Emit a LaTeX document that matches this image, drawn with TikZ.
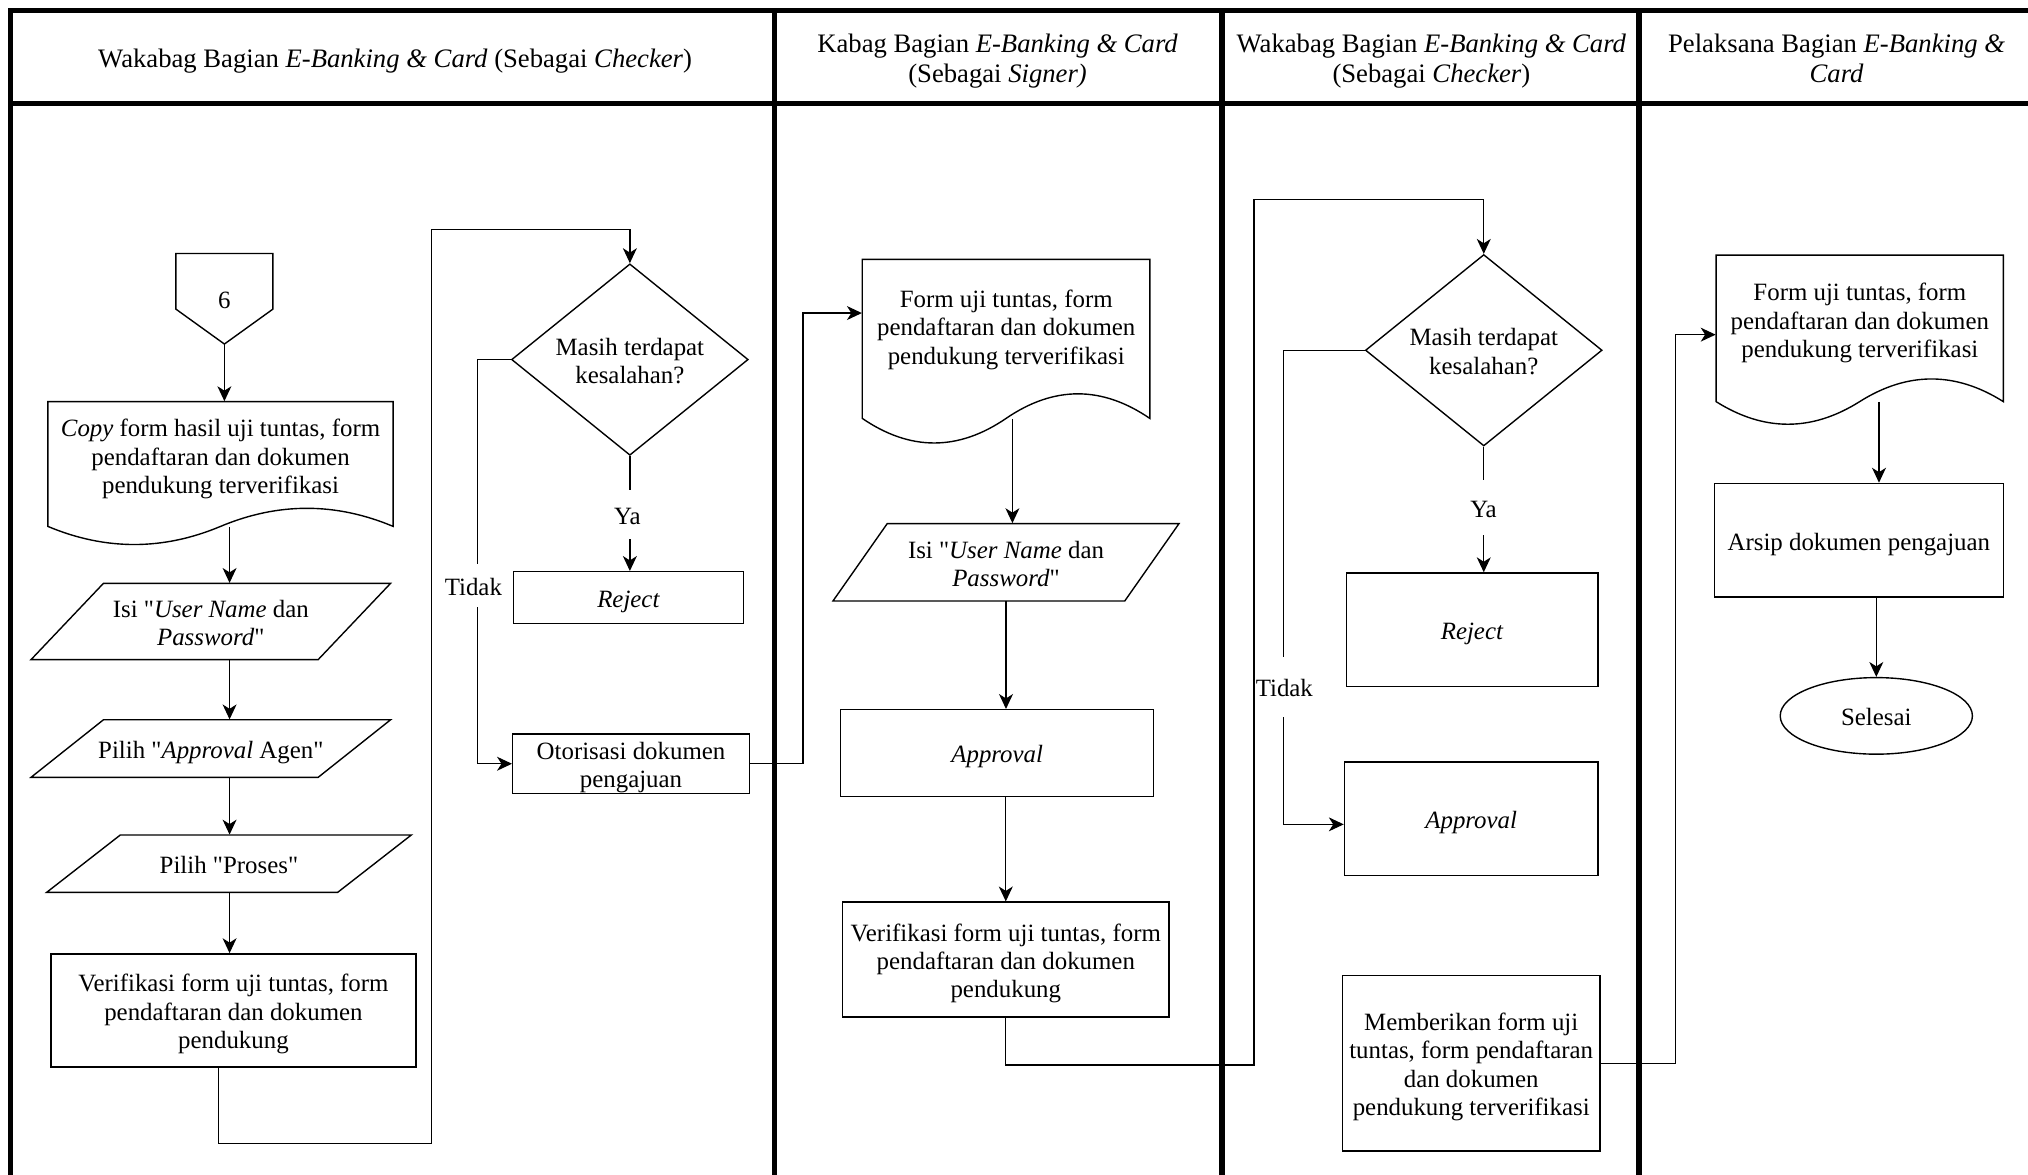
\documentclass[tikz,border=0pt]{standalone}
\usepackage{fontspec}
\setmainfont{Liberation Serif}[Ligatures=TeXOff]
\usetikzlibrary{arrows.meta,shapes.geometric}

% document symbol: x-left, x-right, y-top, y of side ends, wave amplitude
\newcommand\flowdoc[5]{%
  \draw[outline] (#1,#4) -- (#1,#3) -- (#2,#3) -- (#2,#4)
    .. controls ({#2-(#2-#1)/6},{#4-4/3*#5}) and ({#2-(#2-#1)/3},{#4-4/3*#5}) .. ({(#1+#2)/2},#4)
    .. controls ({(#1+#2)/2-(#2-#1)/6},{#4+4/3*#5}) and ({(#1+#2)/2-(#2-#1)/3},{#4+4/3*#5}) .. (#1,#4) -- cycle;}
% input/output parallelogram: x-left, x-right, y-top, y-bottom, slant
\newcommand\flowpgram[5]{%
  \draw[outline] (#1,#4) -- ({#1+#5},#3) -- (#2,#3) -- ({#2-#5},#4) -- cycle;}
% struts for the first and last line of multi-line labels
\newcommand\lnup{\rule{0pt}{12.8pt}}
\newcommand\lndn{\rule[-2.8pt]{0pt}{0pt}}
\newcommand\hdup{\rule{0pt}{13.2pt}}
\newcommand\hddn{\rule[-3pt]{0pt}{0pt}}

\tikzset{
  lane/.style={line width=2.8pt},
  outline/.style={line width=0.7pt},
  link/.style={line width=0.65pt},
  arr/.style={link,-{Stealth[length=7.5pt,width=7pt,inset=2.2pt]}},
  body/.style={font=\fontsize{12.5pt}{14.3pt}\selectfont, align=center, inner sep=0pt,
    execute at begin node={\lnup}, execute at end node={\lndn}},
  head/.style={font=\fontsize{13.4pt}{15.4pt}\selectfont, align=center, inner sep=0pt,
    execute at begin node={\rule{0pt}{12.8pt}}, execute at end node={\hddn}},
  extent/.style 2 args={inner sep=0pt, minimum width=#1*0.65pt, minimum height=#2*0.65pt},
  box/.style 2 args={draw, outline, body, extent={#1}{#2}},
  decision/.style={draw, outline, diamond, aspect=1.24, body,
    minimum width=183*0.65pt, minimum height=148*0.65pt},
  tag/.style={body, fill=white, inner sep=4.5pt},
}

\begin{document}
\begin{tikzpicture}[x=0.65pt,y=-0.65pt]
\useasboundingbox (0,0) rectangle (1568,908);

% swimlane frame
\draw[lane] (1575,8) -- (8,8) -- (8,915);
\draw[lane] (8,80) -- (1575,80);
\foreach \xx in {598.7,945,1267} \draw[lane] (\xx,8) -- (\xx,915);

% lane headers
\node[head] (h1) at (305.5,44.4) {Wakabag Bagian \emph{E-Banking \& Card} (Sebagai \emph{Checker})};
\node[head] (h2) at (771.3,44.3) {\hdup Kabag Bagian \emph{E-Banking \& Card}\\(Sebagai \emph{Signer)}\hddn};
\node[head] (h3) at (1106.7,44.3) {\hdup Wakabag Bagian \emph{E-Banking \& Card}\\(Sebagai \emph{Checker})\hddn};
\node[head] (h4) at (1420,44.3) {\hdup Pelaksana Bagian \emph{E-Banking \&}\\\emph{Card}\hddn};

% ---------- lane 1 ----------
\draw[outline] (136,196) -- (211,196) -- (211,239) -- (173.5,266) -- (136,239) -- cycle;
\node[body, extent={75}{70}] (off6) at (173.5,231) {6};

\flowdoc{37}{304}{310.5}{407}{14}
\node[extent={267}{96.5}] (doc1) at (170.5,358.75) {};
\node[body] (doc1t) at (170.5,352) {\lnup\emph{Copy} form hasil uji tuntas, form\\pendaftaran dan dokumen\\pendukung terverifikasi\lndn};

\flowpgram{24}{302}{451}{510}{56}
\node[body, extent={278}{59}] (p1) at (163,480.5) {\lnup Isi "\emph{User Name} dan\\\emph{Password}"\lndn};
\flowpgram{24}{302}{556.5}{601}{56}
\node[body, extent={278}{44.5}] (p2) at (163,578.75) {Pilih "\emph{Approval} Agen"};
\flowpgram{36}{318}{645.6}{690}{57}
\node[body, extent={282}{44.4}] (p3) at (177,667.8) {Pilih "Proses"};
\node[box={282}{87.5}] (v1) at (180.5,781.25) {\lnup Verifikasi form uji tuntas, form\\pendaftaran dan dokumen\\pendukung\lndn};

\node[decision] (d1) at (487,278) {\lnup Masih terdapat\\kesalahan?\lndn};
\node[box={178}{40}] (rej1) at (486,462) {\emph{Reject}};
\node[box={183}{44.3}] (otor) at (487.9,590.5) {\lnup Otorisasi dokumen\\pengajuan\lndn};

\coordinate (col1) at (177.5,0);
\coordinate (loop1) at (169,884);
\draw[arr] (off6.south) -- (off6.south |- doc1.north);
\draw[arr] (doc1.south -| col1) -- (p1.north -| col1);
\draw[arr] (p1.south -| col1) -- (p2.north -| col1);
\draw[arr] (p2.south -| col1) -- (p3.north -| col1);
\draw[arr] (p3.south -| col1) -- (v1.north -| col1);
\draw[arr] (v1.south -| loop1) -- (loop1) -- (333.8,884) -- (333.8,177.3) -| (d1.north);
\draw[arr] (d1.south) -- (d1.south |- rej1.north);
\draw[arr] (d1.west) -- ++(-25.8,0) |- (otor.west);
\node[tag] (ya1) at (485,397.5) {Ya};
\node[tag, inner ysep=3pt] (no1) at (366,452.5) {Tidak};

% ---------- lane 2 ----------
\flowdoc{666.7}{889}{200.5}{323.5}{19}
\node[extent={222.3}{123}] (doc2) at (777.85,262) {};
\node[body] (doc2t) at (778,252) {\lnup Form uji tuntas, form\\pendaftaran dan dokumen\\pendukung terverifikasi\lndn};
\flowpgram{644}{911.6}{404.8}{464.7}{42}
\node[body, extent={267.6}{59.9}] (p4) at (777.8,434.75) {\lnup Isi "\emph{User Name} dan\\\emph{Password}"\lndn};
\node[box={242}{67}] (appr1) at (771,582.2) {\emph{Approval}};
\node[box={252.3}{88.8}] (v2) at (777.65,741.9) {\lnup Verifikasi form uji tuntas, form\\pendaftaran dan dokumen\\pendukung\lndn};

\draw[arr] ([xshift=3.2pt]doc2.south) -- ([xshift=3.2pt]doc2.south |- p4.north);
\draw[arr] (p4.south) -- (p4.south |- appr1.north);
\draw[arr] (v2.north |- appr1.south) -- (v2.north);

% ---------- lane 3 ----------
\node[decision] (d2) at (1147.2,270.8) {\lnup Masih terdapat\\kesalahan?\lndn};
\node[box={194.4}{88}] (rej2) at (1138.2,487) {\emph{Reject}};
\node[box={196}{87.8}] (appr2) at (1137.5,632.9) {\emph{Approval}};
\node[box={199}{136}] (memb) at (1137.5,822) {\lnup Memberikan form uji\\tuntas, form pendaftaran\\dan dokumen\\pendukung terverifikasi\lndn};

\draw[arr] (d2.south) -- (d2.south |- rej2.north);
\draw[arr] (d2.west) -- ++(-62.7,0) |- ([yshift=-2.9pt]appr2.west);
\node[tag, inner ysep=6pt] (ya2) at (1147,392.5) {Ya};
\node[tag, minimum height=30pt] (no2) at (993,531) {Tidak};

% ---------- lane 4 ----------
\flowdoc{1326.8}{1548.9}{197.2}{310.5}{17.5}
\node[extent={222.1}{113.3}] (doc3) at (1437.85,253.85) {};
\node[body] (doc3t) at (1438,247) {\lnup Form uji tuntas, form\\pendaftaran dan dokumen\\pendukung terverifikasi\lndn};
\node[box={223.5}{87.7}] (arsip) at (1437.2,417.6) {Arsip dokumen pengajuan};
\node[draw, outline, ellipse, body, minimum width=148.6*0.65pt, minimum height=59.2*0.65pt] (selesai) at (1450.7,553.5) {Selesai};

\draw[arr] ([xshift=9.7pt]doc3.south) -- ([xshift=9.7pt]doc3.south |- arsip.north);
\draw[arr] (selesai.north |- arsip.south) -- (selesai.north);

% ---------- hand-overs between lanes ----------
\draw[arr] (otor.east) -- ++(41,0) |- ([yshift=-27.2pt]doc2.north west);
\draw[arr] (v2.south) |- (969.6,823.5) -- (969.6,154) -| (d2.north);
\draw[arr] (memb.east) -- ++(58,0) |- ([yshift=-40.2pt]doc3.north west);
\end{tikzpicture}
\end{document}
